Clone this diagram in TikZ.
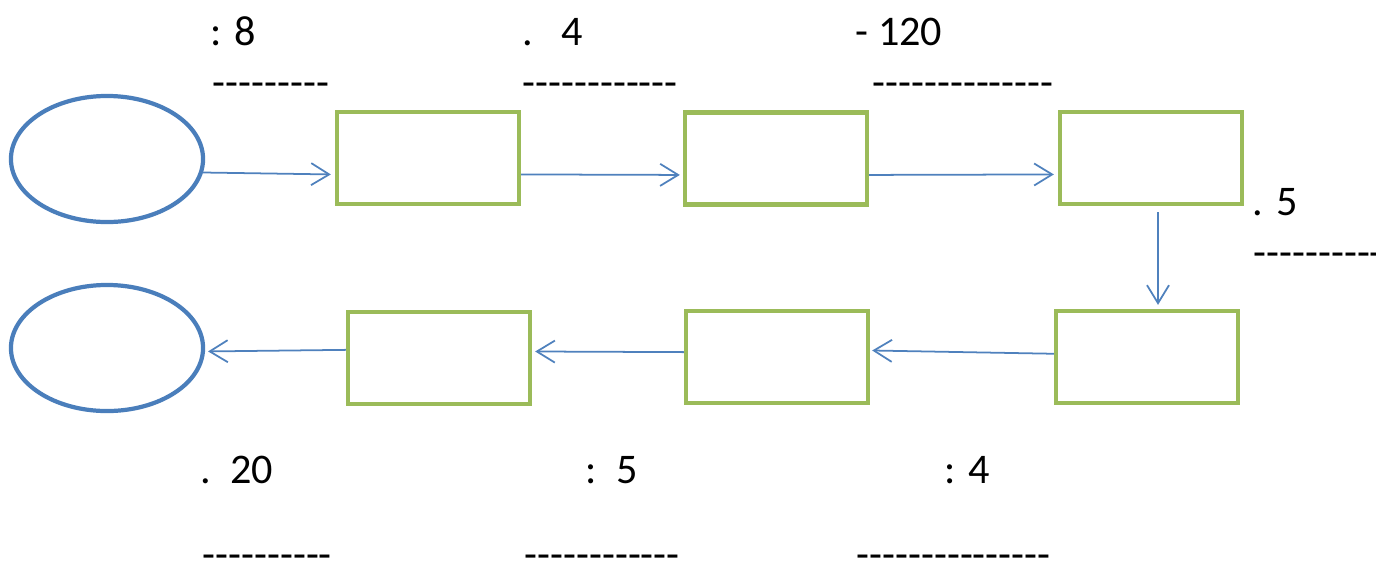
\documentclass[tikz,border=0pt]{standalone}
\usepackage{fontspec}
\setmainfont{Carlito}
\usetikzlibrary{arrows.meta,shapes.geometric}
\definecolor{eblue}{RGB}{74,126,187}
\definecolor{bgreen}{RGB}{155,187,89}
\definecolor{ablue}{RGB}{79,129,189}
\newcommand\blanks[1]{\foreach\k in {1,...,#1}{-}}
\begin{document}
\begin{tikzpicture}[x=0.01cm,y=-0.01cm]
  \tikzstyle{e}=[ellipse, draw=eblue, line width=1.2pt, inner sep=0pt,
    minimum width=1.92cm, minimum height=1.26cm]
  \tikzstyle{b}=[rectangle, draw=bgreen, line width=1.2pt, inner sep=0pt,
    minimum width=1.82cm, minimum height=0.92cm]
  \tikzstyle{a}=[draw=ablue, line width=0.5pt,
    -{Straight Barb[length=0.18cm,width=0.22cm]}]
  \tikzstyle{t}=[anchor=base west, inner sep=0pt,
    font=\fontsize{12pt}{14pt}\selectfont]
  \useasboundingbox (0,0) rectangle (1376,563);
  \node[e] (E-1) at (107,159) {};
  \node[e] (E-2) at (107,348) {};
  \foreach \n/\x/\y in
    {1/428/158,2/776/158.5,3/1151/158,4/1147/357,5/777/357,6/439/358}
    \node[b] (B-\n) at (\x,\y) {};
  \draw[a] (E-1.-8) -- ([xshift=-0.04cm]B-1.190);
  \draw[a] (B-1.-10) -- ([xshift=-0.03cm]B-2.190);
  \draw[a] (B-2.-10) -- ([xshift=-0.04cm]B-3.190);
  \draw[a] ([xshift=0.07cm,yshift=-0.06cm]B-3.south)
    -- ([xshift=0.11cm,yshift=0.04cm]B-4.north);
  \draw[a] (B-4.178) -- ([xshift=0.02cm]B-5.4);
  \draw[a] (B-5.177) -- ([xshift=0.03cm]B-6.4);
  \draw[a] (B-6.175) -- ([xshift=0.03cm]E-2.-2);
  \foreach \n/\x/\y/\s in
    {1/210/45/{: 8},2/522/45/{.~~~4},3/855/45/{- 120},4/1252/215/{. 5},
     5/200/483/{.~~20},6/585/483/{:~~5},7/944/483/{: 4}}
    \node[t] (T-\n) at (\x,\y) {\s};
  \foreach \n/\x/\y/\c in
    {1/212/96/9,2/522/96/12,3/872/96/14,4/1253/266/11,
     5/202/568/10,6/524/568/12,7/856/568/15}
    \node[t] (D-\n) at (\x,\y) {\blanks{\c}};
\end{tikzpicture}
\end{document}
